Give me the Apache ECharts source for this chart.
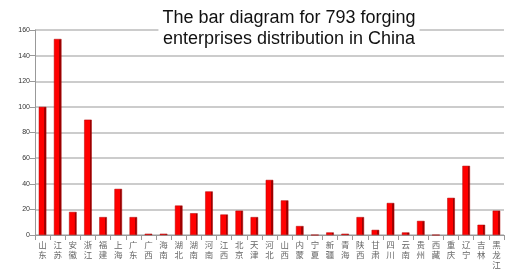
<!DOCTYPE html>
<html>
<head>
<meta charset="utf-8">
<script src="https://cdn.jsdelivr.net/npm/echarts@6/dist/echarts.min.js"></script>
<style>
  html, body { margin: 0; padding: 0; background: #fff; }
  #chart { width: 506px; height: 270px; }
</style>
</head>
<body>
<div id="chart"></div>
<script>
// provinces, left to right
const provinces = ['山东', '江苏', '安徽', '浙江', '福建', '上海', '广东', '广西', '海南', '湖北',
  '湖南', '河南', '江西', '北京', '天津', '河北', '山西', '内蒙', '宁夏', '新疆',
  '青海', '陕西', '甘肃', '四川', '云南', '贵州', '西藏', '重庆', '辽宁', '吉林', '黑龙江'];
// number of forging enterprises
const counts = [100, 153, 18, 90, 14, 36, 14, 1, 1, 23,
  17, 34, 16, 19, 14, 43, 27, 7, 0, 2,
  1, 14, 4, 25, 2, 11, 0, 29, 54, 8, 19];
const yTicks = [0, 20, 40, 60, 80, 100, 120, 140, 160];

let myChart = echarts.init(document.getElementById('chart'));
let option = {
  animation: false,
  title: {
    text: 'The bar diagram for 793 forging\nenterprises distribution in China',
    left: 285,
    top: 7,
    textAlign: 'center',
    backgroundColor: '#fff',
    padding: [1, 4],
    textStyle: {
      fontFamily: 'Liberation Sans',
      fontSize: 18,
      fontWeight: 'normal',
      color: '#111',
      lineHeight: 21
    }
  },
  grid: { left: 35, right: 2, top: 30, bottom: 34 },
  xAxis: {
    type: 'category',
    data: provinces,
    axisLine: { lineStyle: { color: '#999' } },
    axisTick: { show: true, lineStyle: { color: '#999' } },
    axisLabel: {
      interval: 0,
      fontFamily: 'Noto Sans CJK SC',
      fontSize: 8.5,
      lineHeight: 10,
      color: '#666',
      margin: 5,
      formatter: v => v.split('').join('\n')
    }
  },
  yAxis: {
    type: 'value',
    min: 0,
    max: 160,
    interval: 20,
    axisLine: { show: true, lineStyle: { color: '#999' } },
    axisTick: { show: true, lineStyle: { color: '#999' } },
    axisLabel: {
      fontFamily: 'Liberation Sans',
      fontSize: 7,
      color: '#333',
      margin: 5,
      customValues: yTicks
    },
    splitLine: { lineStyle: { color: '#bbb', width: 1.5 } }
  },
  series: [{
    type: 'bar',
    data: counts,
    barWidth: '50%',
    itemStyle: {
      color: new echarts.graphic.LinearGradient(0, 0, 1, 0, [
        { offset: 0, color: '#ff0000' },
        { offset: 0.72, color: '#ff0000' },
        { offset: 0.73, color: '#a80000' },
        { offset: 1, color: '#8a0000' }
      ]),
      borderColor: '#b00000',
      borderWidth: 0.5
    }
  }]
};
myChart.setOption(option);
</script>
</body>
</html>
